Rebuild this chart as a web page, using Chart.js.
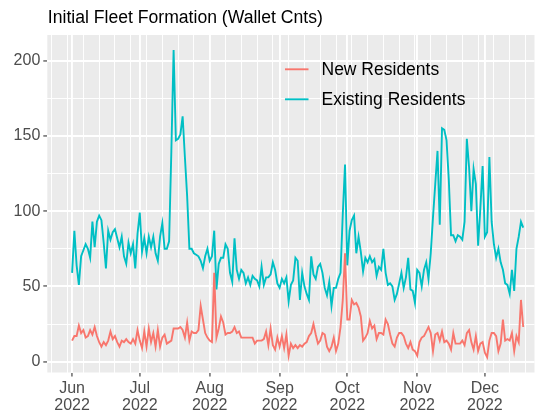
<!DOCTYPE html>
<html>
<head>
<meta charset="utf-8">
<script src="https://cdn.jsdelivr.net/npm/chart.js@4.4.1/dist/chart.umd.min.js"></script>
<style>
  html, body { margin: 0; padding: 0; background: #fff; }
  #wrap { width: 540px; height: 419px; }
</style>
</head>
<body>
<div id="wrap"><canvas id="fleetChart" width="540" height="419"></canvas></div>
<script>
// daily counts, one value per day starting at startDate
const startDate = '2022-06-01';
const monthLabels = ['Jun', 'Jul', 'Aug', 'Sep', 'Oct', 'Nov', 'Dec'];
const monthStarts = ['2022-06-01', '2022-07-01', '2022-08-01', '2022-09-01', '2022-10-01', '2022-11-01', '2022-12-01'];
const yearLabel = '2022';
const yTicks = [0, 50, 100, 150, 200];
const seriesNames = ['New Residents', 'Existing Residents'];

const newResidents = [
  14, 17, 17, 24, 19, 21, 16, 17, 21, 18, 23, 17, 13, 10, 13, 11, 14, 20, 15, 17, 13, 10, 14, 13, 15, 13, 12, 15, 12, 21, 14,
  9, 20, 10, 22, 13, 19, 10, 21, 10, 16, 18, 12, 13, 14, 22, 22, 22, 23, 21, 16, 26, 14, 20, 19, 19, 21, 37, 28, 19, 16,
  14, 13, 59, 16, 22, 30, 26, 18, 19, 19, 20, 23, 19, 20, 16, 16, 16, 16, 16, 16, 12, 14, 14, 14, 15, 20, 11, 22, 11, 8, 16, 10, 17, 9, 18, 4,
  12, 9, 11, 9, 11, 10, 12, 13, 17, 19, 25, 18, 12, 14, 19, 18, 10, 7, 10, 16, 7, 12, 23, 41, 72, 28, 28, 41, 38, 39, 36, 30, 14,
  16, 19, 27, 22, 24, 15, 19, 19, 18, 28, 25, 18, 12, 10, 16, 19, 19, 17, 12, 9, 13, 8, 7, 4, 13, 16, 17, 20, 23, 19, 7, 18, 19, 14,
  20, 13, 14, 12, 8, 19, 12, 12, 12, 14, 11, 19, 21, 13, 8, 17, 7, 12, 13, 6, 3, 14, 19, 19, 17, 7, 12, 28, 14, 15, 14, 19, 7, 17, 13, 41, 23
];

const existingResidents = [
  59, 87, 64, 51, 70, 74, 78, 75, 69, 93, 76, 93, 97, 94, 79, 62, 87, 81, 86, 88, 82, 76, 83, 70, 65, 79, 72, 78, 62, 85, 99,
  73, 82, 72, 83, 76, 83, 72, 67, 83, 92, 75, 75, 80,
  140, 207, 147, 148, 151, 163, 136, 110, 75, 75, 72, 71, 70, 67, 62, 70, 75, 67, 70, 87,
  48, 65, 69, 69, 78, 75, 59, 53, 82, 61, 55, 61, 59, 52, 56, 51, 57, 55, 54, 50, 63, 51, 56, 56, 58, 66, 61, 52, 49, 55, 52, 56, 40,
  51, 54, 69, 67, 41, 59, 50, 45, 41, 70, 58, 55, 63, 65, 59, 49, 44, 53, 37, 49, 49, 55, 59, 98, 131, 64, 87, 94, 97, 72, 83, 73, 60,
  69, 66, 70, 66, 68, 57, 63, 61, 75, 59, 51, 52, 50, 41, 45, 52, 59, 49, 56, 69, 48, 47, 39, 61, 59, 50, 61, 66, 55, 72, 96, 118, 140, 91,
  155, 154, 147, 121, 84, 84, 80, 84, 83, 81, 93, 148, 129, 100, 128, 118, 77, 102, 130, 83, 86, 136, 93, 78, 69, 75, 66, 61, 52, 51, 45, 61, 47, 75, 83, 93, 89
];

const DAY = 86400000;
const t0 = Date.parse(startDate);
const dayOf = s => Math.round((Date.parse(s) - t0) / DAY);

const xMin = -11, xMax = 205;
const yMin = -7.2, yMax = 217;

// major breaks on month starts, minor breaks on mondays
const xMajor = monthStarts.map(dayOf);
const xMinor = [];
for (let d = Math.ceil(xMin); d <= xMax; d++) {
  if (new Date(t0 + d * DAY).getUTCDay() === 1 && !xMajor.includes(d)) xMinor.push(d);
}

const toPoints = arr => arr.map((v, i) => ({ x: i, y: v }));

const font = { family: 'Liberation Sans, Arial, sans-serif', size: 16 };
const gridW = ctx => (ctx.tick && ctx.tick.minor ? 0.95 : 1.9);
const tickC = ctx => (ctx.tick && ctx.tick.minor ? 'rgba(0,0,0,0)' : '#333333');

const titlePlugin = {
  id: 'ggTitle',
  afterDraw(chart) {
    const c = chart.ctx;
    c.save();
    c.fillStyle = '#000';
    c.font = '17.6px Liberation Sans, Arial, sans-serif';
    c.textBaseline = 'alphabetic';
    c.fillText('Initial Fleet Formation (Wallet Cnts)', chart.chartArea.left + 0.5, 22.7);
    c.restore();
  }
};

const legendPlugin = {
  id: 'ggLegend',
  afterDraw(chart) {
    const c = chart.ctx;
    const rows = [69.3, 99.3];
    c.save();
    c.font = '17.5px Liberation Sans, Arial, sans-serif';
    c.textBaseline = 'middle';
    chart.data.datasets.forEach((ds, i) => {
      c.strokeStyle = ds.borderColor;
      c.lineWidth = 1.9;
      c.beginPath();
      c.moveTo(285, rows[i]);
      c.lineTo(308.5, rows[i]);
      c.stroke();
      c.fillStyle = '#000';
      c.fillText(ds.label, 321.5, rows[i] + 0.5);
    });
    c.restore();
  }
};

const panelBg = {
  id: 'panelBg',
  beforeDraw(chart) {
    const a = chart.chartArea;
    const c = chart.ctx;
    c.save();
    c.fillStyle = '#EBEBEB';
    c.fillRect(a.left, a.top, a.right - a.left, a.bottom - a.top);
    c.restore();
  }
};

new Chart(document.getElementById('fleetChart').getContext('2d'), {
  type: 'line',
  data: {
    datasets: [
      {
        label: seriesNames[0],
        data: toPoints(newResidents),
        borderColor: '#F8766D',
        borderWidth: 1.9,
        pointRadius: 0,
        tension: 0,
        fill: false
      },
      {
        label: seriesNames[1],
        data: toPoints(existingResidents),
        borderColor: '#00BFC4',
        borderWidth: 1.9,
        pointRadius: 0,
        tension: 0,
        fill: false
      }
    ]
  },
  options: {
    responsive: false,
    animation: false,
    devicePixelRatio: 1,
    layout: { padding: { top: 35, right: 5.5, left: 0, bottom: 0 } },
    plugins: {
      legend: { display: false },
      title: { display: false },
      tooltip: { enabled: false }
    },
    scales: {
      x: {
        type: 'linear',
        min: xMin,
        max: xMax,
        afterBuildTicks: s => {
          s.ticks = xMajor.map((v, i) => ({ value: v, label_i: i }))
            .concat(xMinor.map(v => ({ value: v, minor: true })))
            .sort((a, b) => a.value - b.value);
        },
        afterFit: s => { s.height = 46.5; },
        ticks: {
          autoSkip: false,
          maxRotation: 0,
          padding: 3,
          color: '#4D4D4D',
          font: { ...font, lineHeight: 1.08 },
          callback: function (value, index, ticks) {
            const t = ticks[index];
            if (t.minor) return '';
            return [monthLabels[t.label_i], yearLabel];
          }
        },
        grid: { color: '#FFFFFF', lineWidth: gridW, tickColor: tickC, tickLength: 4, tickWidth: 1.1 },
        border: { display: false }
      },
      y: {
        type: 'linear',
        min: yMin,
        max: yMax,
        afterBuildTicks: s => {
          const out = [];
          yTicks.forEach((v, i) => {
            out.push({ value: v });
            if (i < yTicks.length - 1) out.push({ value: (v + yTicks[i + 1]) / 2, minor: true });
          });
          s.ticks = out;
        },
        afterFit: s => { s.width = 47.3; },
        ticks: {
          autoSkip: false,
          padding: 3,
          color: '#4D4D4D',
          font: font,
          callback: function (value, index, ticks) {
            return ticks[index].minor ? '' : String(value);
          }
        },
        grid: { color: '#FFFFFF', lineWidth: gridW, tickColor: tickC, tickLength: 4, tickWidth: 1.1 },
        border: { display: false }
      }
    }
  },
  plugins: [panelBg, titlePlugin, legendPlugin]
});
</script>
</body>
</html>
